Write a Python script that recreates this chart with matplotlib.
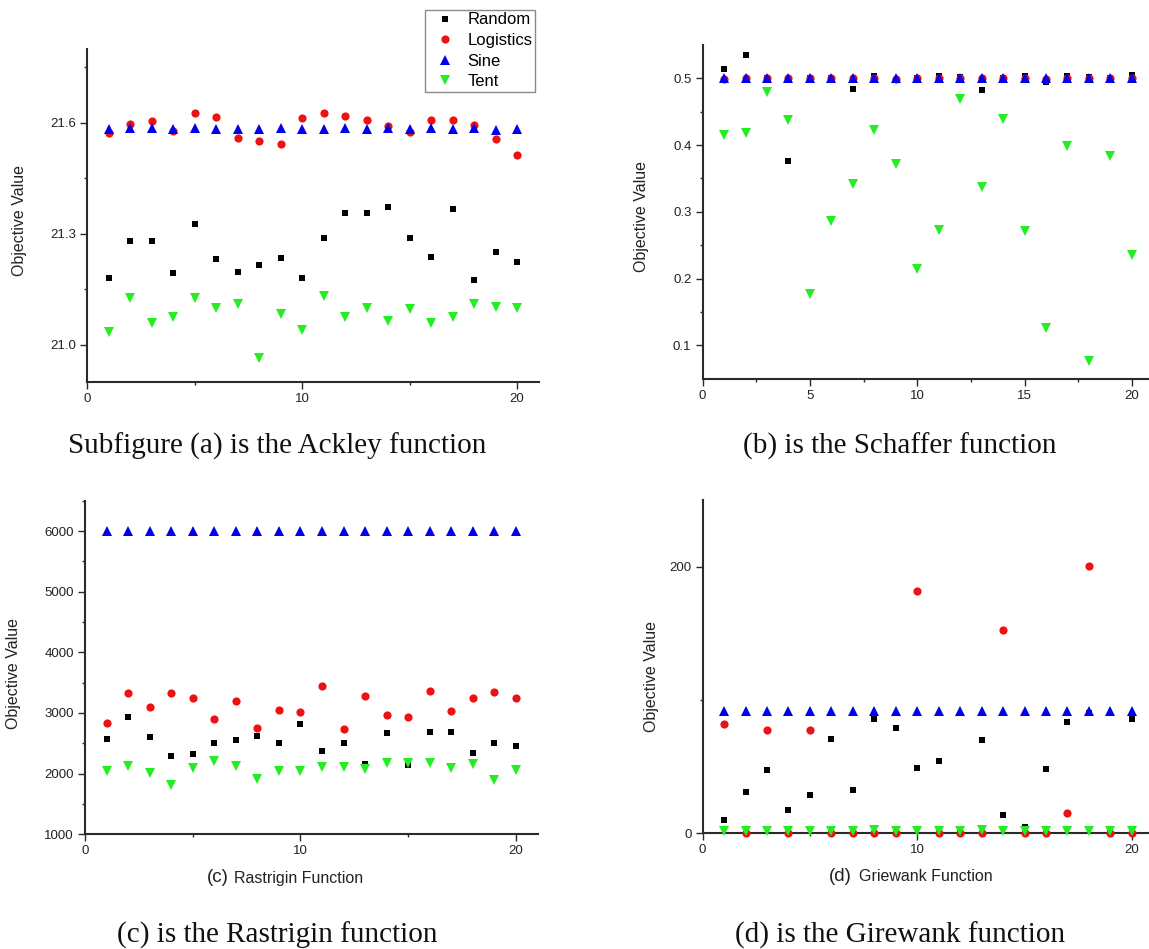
import numpy as np
import matplotlib
matplotlib.use("Agg")
import matplotlib.pyplot as plt
from matplotlib.ticker import FixedLocator, FormatStrFormatter

W, H = 1149, 949

iterations = np.arange(1, 21)
strategies = ["Random", "Logistics", "Sine", "Tent"]

# Ackley
ackley_random = [21.180, 21.279, 21.279, 21.195, 21.327, 21.231, 21.196, 21.215, 21.235, 21.181,
                 21.288, 21.356, 21.355, 21.371, 21.288, 21.238, 21.366, 21.176, 21.251, 21.224]
ackley_logistics = [21.572, 21.598, 21.604, 21.577, 21.626, 21.615, 21.558, 21.552, 21.542, 21.614,
                    21.626, 21.618, 21.609, 21.592, 21.576, 21.609, 21.609, 21.595, 21.556, 21.512]
ackley_sine = [21.584, 21.587, 21.585, 21.584, 21.586, 21.584, 21.584, 21.583, 21.585, 21.583,
               21.583, 21.586, 21.583, 21.586, 21.583, 21.585, 21.583, 21.587, 21.582, 21.584]
ackley_tent = [21.034, 21.127, 21.057, 21.075, 21.127, 21.100, 21.111, 20.964, 21.084, 21.039,
               21.132, 21.075, 21.100, 21.064, 21.095, 21.059, 21.075, 21.109, 21.102, 21.100]

# Schaffer
schaffer_random = [0.5135, 0.5355, 0.500, 0.376, 0.500, 0.500, 0.484, 0.503, 0.498, 0.500,
                   0.5035, 0.502, 0.483, 0.500, 0.503, 0.494, 0.504, 0.5025, 0.500, 0.5055]
schaffer_logistics = [0.499, 0.500, 0.500, 0.500, 0.500, 0.500, 0.500, 0.501, 0.499, 0.500,
                      0.501, 0.500, 0.500, 0.500, 0.501, 0.499, 0.501, 0.500, 0.500, 0.500]
schaffer_sine = [0.500] * 20
schaffer_tent = [0.415, 0.4175, 0.479, 0.4375, 0.177, 0.286, 0.341, 0.4225, 0.371, 0.215,
                 0.273, 0.4695, 0.3375, 0.4385, 0.2715, 0.1255, 0.398, 0.077, 0.384, 0.235]

# Rastrigin
rastrigin_random = [2569, 2934, 2600, 2292, 2330, 2500, 2561, 2616, 2500, 2824,
                    2380, 2500, 2160, 2671, 2143, 2687, 2682, 2341, 2500, 2462]
rastrigin_logistics = [2840, 3323, 3093, 3323, 3246, 2895, 3202, 2747, 3049, 3016,
                       3444, 2741, 3279, 2961, 2928, 3367, 3027, 3241, 3345, 3241]
rastrigin_sine = [6000] * 20
rastrigin_tent = [2049, 2132, 2006, 1813, 2093, 2209, 2126, 1907, 2038, 2038,
                  2104, 2104, 2082, 2170, 2170, 2176, 2099, 2165, 1890, 2060]

# Griewank
griewank_random = [10.0, 30.9, 47.8, 17.2, 28.9, 71.0, 32.6, 85.7, 79.0, 49.3,
                   54.3, 1.7, 70.2, 13.4, 5.0, 48.6, 83.4, 90.2, 3.0, 85.4]
griewank_logistics = [81.7, 0.5, 77.5, 0.5, 77.7, 0.5, 0.5, 0.5, 0.5, 181.8,
                      0.5, 0.5, 0.5, 152.4, 0.5, 0.5, 15.2, 200.2, 0.5, 0.5]
griewank_sine = [91.7] * 20
griewank_tent = [1.7, 1.7, 1.7, 1.7, 1.7, 1.7, 1.7, 2.4, 1.7, 1.7,
                 1.7, 1.7, 2.4, 1.7, 1.7, 1.7, 1.7, 1.7, 1.7, 1.7]

MARKERS = {
    "Random": dict(marker="s", color="#000000", ms=4.9),
    "Logistics": dict(marker="o", color="#ee1111", ms=5.9),
    "Sine": dict(marker="^", color="#0000ee", ms=6.6),
    "Tent": dict(marker="v", color="#22ee22", ms=6.6),
}

plt.rcParams["font.family"] = ["Liberation Sans", "DejaVu Sans"]
AXIS_COLOR = "#2a2a2a"


def px_box(left, right, top, bottom):
    return [left / W, 1 - bottom / H, (right - left) / W, (bottom - top) / H]


def fig_xy(x, y):
    return x / W, 1 - y / H


def draw_panel(ax, series, xlim, ylim, xmaj, xmin, ymaj, ymin, yfmt):
    handles = []
    for name, values in zip(strategies, series):
        st = MARKERS[name]
        line, = ax.plot(iterations, values, linestyle="none", marker=st["marker"],
                        color=st["color"], markersize=st["ms"], markeredgewidth=0,
                        clip_on=False, zorder=3, label=name)
        handles.append(line)
    ax.set_xlim(*xlim)
    ax.set_ylim(*ylim)
    ax.xaxis.set_major_locator(FixedLocator(xmaj))
    ax.xaxis.set_minor_locator(FixedLocator(xmin))
    ax.yaxis.set_major_locator(FixedLocator(ymaj))
    ax.yaxis.set_minor_locator(FixedLocator(ymin))
    ax.yaxis.set_major_formatter(FormatStrFormatter(yfmt))
    for side in ("top", "right"):
        ax.spines[side].set_visible(False)
    for side in ("left", "bottom"):
        ax.spines[side].set_linewidth(1.5)
        ax.spines[side].set_color(AXIS_COLOR)
    ax.tick_params(which="major", direction="out", length=5, width=1.0,
                   color=AXIS_COLOR, labelsize=9.5, pad=3, labelcolor="#222222")
    ax.tick_params(which="minor", direction="out", length=2.5, width=1.0, color=AXIS_COLOR)
    ax.patch.set_alpha(0)
    return handles


fig = plt.figure(figsize=(W / 100, H / 100), dpi=100)

ax_a = fig.add_axes(px_box(87.3, 539.3, 49, 381.5))
ax_b = fig.add_axes(px_box(702.6, 1149, 45, 378.7))
ax_c = fig.add_axes(px_box(85, 537.5, 500.7, 834.3))
ax_d = fig.add_axes(px_box(702.6, 1149, 500, 833.3))

handles = draw_panel(ax_a, [ackley_random, ackley_logistics, ackley_sine, ackley_tent],
                     (0, 21.03), (20.9, 21.8), [0, 10, 20], [5, 15],
                     [21.0, 21.3, 21.6], [20.85, 21.15, 21.45, 21.75], "%.1f")
draw_panel(ax_b, [schaffer_random, schaffer_logistics, schaffer_sine, schaffer_tent],
           (0, 20.8), (0.05, 0.55), [0, 5, 10, 15, 20], [2.5, 7.5, 12.5, 17.5],
           [0.1, 0.2, 0.3, 0.4, 0.5], [0.15, 0.25, 0.35, 0.45], "%.1f")
draw_panel(ax_c, [rastrigin_random, rastrigin_logistics, rastrigin_sine, rastrigin_tent],
           (0, 21.0), (1000, 6500), [0, 10, 20], [5, 15],
           [1000, 2000, 3000, 4000, 5000, 6000], [1500, 2500, 3500, 4500, 5500, 6500], "%d")
draw_panel(ax_d, [griewank_random, griewank_logistics, griewank_sine, griewank_tent],
           (0, 20.8), (0, 250), [0, 10, 20], [5, 15],
           [0, 200], [100], "%d")

fig.legend(handles, strategies, loc="upper right",
           bbox_to_anchor=fig_xy(535, 10), bbox_transform=fig.transFigure,
           fontsize=12, frameon=True, fancybox=False, edgecolor="#8a8a8a",
           framealpha=1, handlelength=2.1, handletextpad=0.3, labelspacing=0.33,
           borderpad=0.15, borderaxespad=0)

# y labels
for x, y in [(19.6, 220), (641.7, 216.7), (13.6, 673.3), (651.5, 676.7)]:
    fig.text(*fig_xy(x, y), "Objective Value", rotation=90, ha="center", va="center",
             fontsize=11.5, color="#222222")

# x labels for the lower panels
fig.text(*fig_xy(206.4, 878), "(c)", ha="left", va="center", fontsize=13.5, color="#222222")
fig.text(*fig_xy(234, 878), "Rastrigin Function", ha="left", va="center",
         fontsize=11.5, color="#222222")
fig.text(*fig_xy(828.5, 876.7), "(d)", ha="left", va="center", fontsize=13.5, color="#222222")
fig.text(*fig_xy(859.4, 876.7), "Griewank Function", ha="left", va="center",
         fontsize=11.5, color="#222222")

# captions under each panel
captions = [
    (277, 454, "Subfigure (a) is the Ackley function"),
    (900, 454, "(b) is the Schaffer function"),
    (276.8, 942.7, "(c) is the Rastrigin function"),
    (900.4, 942.7, "(d) is the Girewank function"),
]
for x, y, text in captions:
    fig.text(*fig_xy(x, y), text, ha="center", va="baseline", fontsize=21,
             family=["Liberation Serif", "DejaVu Serif"], color="#111111")

fig.savefig("out.png", dpi=100)
